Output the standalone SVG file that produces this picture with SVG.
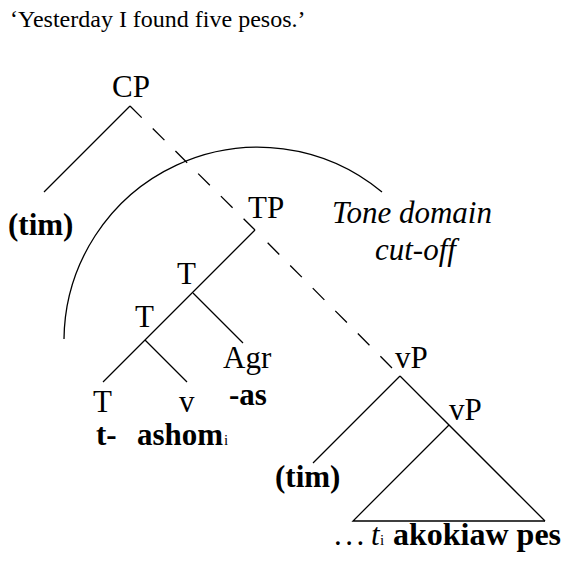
<svg xmlns="http://www.w3.org/2000/svg" width="562" height="565" viewBox="0 0 562 565">
<style>
text{font-family:"Liberation Serif","Times New Roman",serif;fill:#000}
.t{font-size:31px}
.b{font-size:31px;font-weight:bold}
.i{font-size:31px;font-style:italic}
.s{font-size:15px}
.ttl{font-size:24px}
.ln{stroke:#000;stroke-width:1.3;fill:none}
.ds{stroke:#000;stroke-width:1.3;fill:none;stroke-dasharray:16.5 15.5}
</style>
<rect width="562" height="565" fill="#fff"/>
<text id="title" class="ttl" x="10" y="27">‘Yesterday I found five pesos.’</text>
<g id="connectors">
<line class="ln" x1="130" y1="106" x2="44" y2="192"/>
<line class="ds" x1="130" y1="106" x2="255" y2="230"/>
<line class="ds" x1="392" y1="368" x2="257" y2="232"/>
<line class="ln" x1="255" y1="230" x2="103" y2="382"/>
<line class="ln" x1="193" y1="293" x2="243" y2="343"/>
<line class="ln" x1="145" y1="340" x2="187" y2="382"/>
<line class="ln" x1="400" y1="376" x2="313" y2="463"/>
<line class="ln" x1="400" y1="376" x2="545" y2="521"/>
<path class="ln" d="M449 425 L353 521 L545 521"/>
<path id="tone-arc" class="ln" d="M64 339 A194 194 0 0 1 382 192"/>
</g>
<g id="cp"><text class="t" x="112" y="97">CP</text></g>
<g id="tim1"><text class="b" x="8" y="235">(tim)</text></g>
<g id="tp"><text class="t" x="248" y="218">TP</text></g>
<g id="t1"><text class="t" x="177" y="284">T</text></g>
<g id="t2"><text class="t" x="135" y="327">T</text></g>
<g id="agr"><text class="t" x="223" y="368">Agr</text><text class="b" x="229" y="405">-as</text></g>
<g id="t3"><text class="t" x="93" y="412">T</text><text class="b" x="96" y="445">t-</text></g>
<g id="v"><text class="t" x="179" y="412">v</text><text class="b" x="137" y="445">ashom</text><text class="s" x="224" y="445">i</text></g>
<g id="tone"><text class="i" x="332" y="223">Tone domain</text><text class="i" x="375" y="260">cut-off</text></g>
<g id="vp1"><text class="t" x="395" y="368">vP</text></g>
<g id="vp2"><text class="t" x="449" y="420">vP</text></g>
<g id="tim2"><text class="b" x="275" y="487">(tim)</text></g>
<g id="base"><text class="t" x="334" y="545" style="letter-spacing:3.5px">...</text><text class="i" x="371" y="545">t</text><text class="s" x="380" y="545">i</text><text class="b" x="393" y="545" style="font-size:32px">akokiaw pes</text></g>
</svg>
